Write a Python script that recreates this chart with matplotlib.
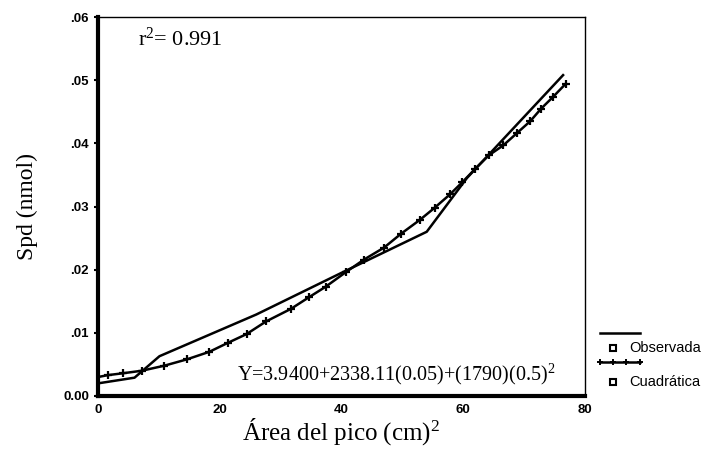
import matplotlib.pyplot as plt
from matplotlib.lines import Line2D

obs_x = [0, 6.0, 10.1, 26.0, 40.0, 54.0, 60.6, 76.4]
obs_y = [0.0020, 0.0029, 0.0063, 0.0129, 0.0195, 0.0260, 0.0345, 0.0508]

# quadratic fit curve with tick markers
quad_x = [0, 1.6, 4.1, 7.2, 10.9, 14.6, 18.3, 21.3, 24.4, 27.6, 31.7, 34.6,
          37.4, 40.7, 43.7, 47.0, 49.8, 52.9, 55.3, 57.8, 59.8, 62.0, 64.2,
          66.6, 68.8, 71.0, 72.8, 74.7, 76.8]
quad_y = [0.0030, 0.0033, 0.0036, 0.0040, 0.0048, 0.0058, 0.0070, 0.0084,
          0.0098, 0.0118, 0.0138, 0.0156, 0.0173, 0.0196, 0.0216, 0.0235,
          0.0257, 0.0279, 0.0298, 0.0319, 0.0338, 0.0360, 0.0381, 0.0397,
          0.0416, 0.0435, 0.0455, 0.0473, 0.0494]

xticks = [0, 20, 40, 60, 80]
yticks = [0.0, 0.01, 0.02, 0.03, 0.04, 0.05, 0.06]
ytick_labels = ["0.00", ".01", ".02", ".03", ".04", ".05", ".06"]

serif = "Liberation Serif"
sans = "Liberation Sans"

plt.rcParams["mathtext.fontset"] = "custom"
plt.rcParams["mathtext.rm"] = serif
plt.rcParams["mathtext.it"] = serif + ":italic"

fig = plt.figure(figsize=(7.01, 4.66), dpi=100)
ax = fig.add_axes([98 / 701, 70 / 466, 487 / 701, 379 / 466])

ax.plot(obs_x, obs_y, color="black", lw=1.8)
ax.plot(quad_x, quad_y, color="black", lw=1.8, marker="+", ms=6, mew=1.6,
        markevery=slice(1, None))

ax.set_xlim(0, 80)
ax.set_ylim(0, 0.06)
ax.set_xticks(xticks)
ax.set_xticklabels([str(t) for t in xticks], fontfamily=sans,
                   fontweight="bold", fontsize=9.5)
ax.set_yticks(yticks)
ax.set_yticklabels(ytick_labels, fontfamily=sans, fontweight="bold",
                   fontsize=9.5)
ax.tick_params(axis="both", direction="out", length=3, width=1.5)
ax.tick_params(axis="x", length=0, pad=6)

ax.spines["left"].set_linewidth(3)
ax.spines["bottom"].set_linewidth(3)
ax.spines["top"].set_linewidth(1)
ax.spines["right"].set_linewidth(1)

ax.set_xlabel(r"Área del pico (cm)$^\mathrm{2}$", fontfamily=serif,
              fontsize=18, labelpad=0)
ax.set_ylabel("Spd (nmol)", fontfamily=serif, fontsize=17, labelpad=18)

ax.text(6.5, 0.0565, r"r$^\mathrm{2}$= 0.991", fontfamily=serif,
        fontsize=16, va="center", ha="left")
ax.text(22.8, 0.0034, r"Y=3.9400+2338.11(0.05)+(1790)(0.5)$^\mathrm{2}$",
        fontfamily=serif, fontsize=14.5, va="center", ha="left")

# legend drawn outside the axes, as in the original
def fx(p):
    return p / 701

def fy(p):
    return 1 - p / 466

fig.add_artist(Line2D([fx(600), fx(640)], [fy(333), fy(333)],
                      color="black", lw=1.8))
fig.add_artist(Line2D([fx(600), fx(613), fx(626), fx(640)],
                      [fy(362)] * 4, color="black", lw=1.8,
                      marker="+", ms=5, mew=1.4))
for yy, lab in [(348, "Observada"), (382, "Cuadrática")]:
    fig.add_artist(Line2D([fx(613)], [fy(yy)], color="black", marker="s",
                          ms=4, mfc="white", mew=1.5, ls="none"))
    fig.text(fx(629), fy(yy), lab, fontfamily=sans, fontsize=10.5,
             va="center", ha="left")

fig.savefig("out.png", dpi=100)
